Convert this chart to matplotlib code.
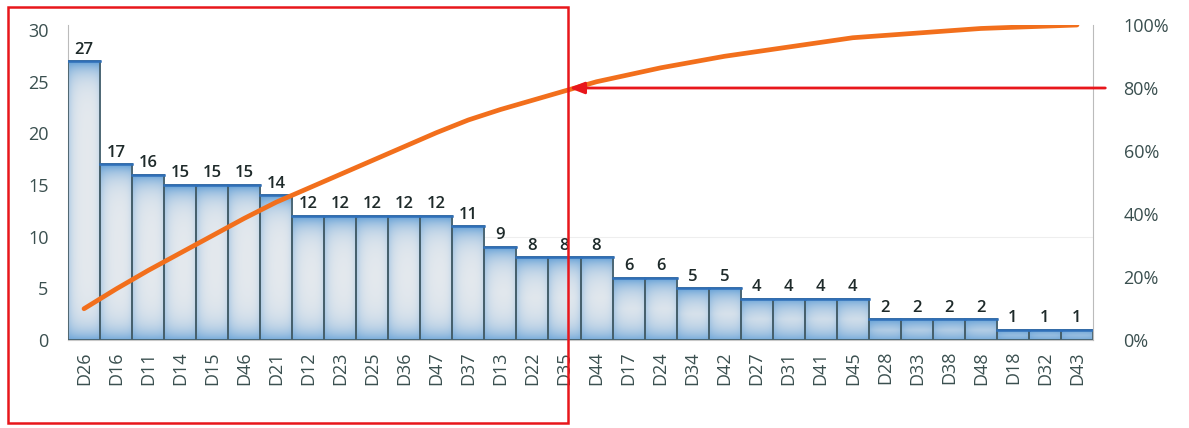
import numpy as np
import matplotlib
matplotlib.use("Agg")
import matplotlib.pyplot as plt
from matplotlib.patches import Rectangle
from matplotlib.colors import to_rgb

plt.rcParams['font.family'] = ['Open Sans', 'DejaVu Sans']

categories = ["D26", "D16", "D11", "D14", "D15", "D46", "D21", "D12", "D23", "D25",
              "D36", "D47", "D37", "D13", "D22", "D35", "D44", "D17", "D24", "D34",
              "D42", "D27", "D31", "D41", "D45", "D28", "D33", "D38", "D48", "D18",
              "D32", "D43"]
counts = [27, 17, 16, 15, 15, 15, 14, 12, 12, 12, 12, 12, 11, 9, 8, 8, 8, 6, 6, 5,
          5, 4, 4, 4, 4, 2, 2, 2, 2, 1, 1, 1]
left_ticks = [0, 5, 10, 15, 20, 25, 30]
right_ticks = [0, 0.2, 0.4, 0.6, 0.8, 1.0]
right_labels = ["0%", "20%", "40%", "60%", "80%", "100%"]
threshold = 0.8
threshold_cat = "D35"

cum_pct = np.cumsum(counts) / np.sum(counts)
x = np.arange(len(categories))

W, H = 1189, 428
fig = plt.figure(figsize=(W / 100, H / 100), dpi=100)
ax = fig.add_axes([68 / W, 1 - 340 / H, (1093 - 68) / W, 315 / H])
ax.set_xlim(-0.5, len(categories) - 0.5)
ax.set_ylim(0, 30.5)

light = np.array(to_rgb("#e6eaee"))
blue = np.array(to_rgb("#5b9bd5"))
for xi, h in zip(x, counts):
    ys = np.linspace(0, h, 200)
    dt = h - ys
    db = ys
    w = np.maximum(0.95 * np.exp(-dt / 1.1), 0.8 * np.exp(-db / 1.2))
    xs = np.linspace(-1, 1, 40)
    wx = 0.4 * np.exp(-(xs + 1) / 0.3) + 0.3 * np.exp(-(1 - xs) / 0.2)
    ww = np.clip(w[:, None] + wx[None, :] * (1 - w[:, None]), 0, 1)
    img = light[None, None, :] * (1 - ww[..., None]) + blue[None, None, :] * ww[..., None]
    ax.imshow(img, extent=[xi - 0.5, xi + 0.5, 0, h], origin="lower",
              aspect="auto", zorder=2, interpolation="bilinear")
    ax.add_patch(Rectangle((xi - 0.5, 0), 1.0, h, fill=False,
                           edgecolor="#46606c", linewidth=1.3, zorder=3))
    ax.plot([xi - 0.5, xi + 0.5], [h, h], color="#2f6fb8", linewidth=1.8, zorder=4)
    ax.text(xi, h + 0.35, str(h), ha="center", va="bottom", fontsize=12,
            fontweight="semibold", color="#1e2a2a", zorder=5)

ax.set_xticks(x)
ax.set_xticklabels(categories, rotation=90, fontsize=13, color="#3a4f4f")
ax.set_yticks(left_ticks)
ax.set_yticklabels([str(t) for t in left_ticks], fontsize=13, color="#3a4f4f")
ax.tick_params(axis="both", length=0, pad=8)
ax.tick_params(axis="y", pad=14)
ax.axhline(10, color="#eeeeee", linewidth=0.8, zorder=0)
for s in ["top", "right"]:
    ax.spines[s].set_visible(False)
ax.spines["left"].set_color("#bbbbbb")
ax.spines["bottom"].set_color("#c8c8c8")

ax2 = ax.twinx()
ax2.set_ylim(0, 1.0)
ax2.set_yticks(right_ticks)
ax2.set_yticklabels(right_labels, fontsize=13, color="#3a4f4f")
ax2.tick_params(axis="y", length=0, pad=22)
for s in ["top", "left", "bottom"]:
    ax2.spines[s].set_visible(False)
ax2.spines["right"].set_color("#bbbbbb")
ax2.plot(x, cum_pct, color="#f26f1c", linewidth=3.4, zorder=6, solid_capstyle="round")

# threshold arrow
ti = categories.index(threshold_cat)
ax2.annotate("", xy=(ti + 0.15, threshold), xycoords="data",
             xytext=(1.012, threshold), textcoords=("axes fraction", "data"),
             arrowprops=dict(arrowstyle="-|>,head_length=0.9,head_width=0.35",
                             color="#e8161b", lw=2, shrinkA=0, shrinkB=0),
             annotation_clip=False, zorder=7)

# highlight rectangle
fig.patches.append(Rectangle((8 / W, 1 - 423 / H), (568 - 8) / W, (423 - 7) / H,
                             transform=fig.transFigure, fill=False,
                             edgecolor="#e8161b", linewidth=1.8, zorder=10))

fig.savefig("out.png", dpi=100)
